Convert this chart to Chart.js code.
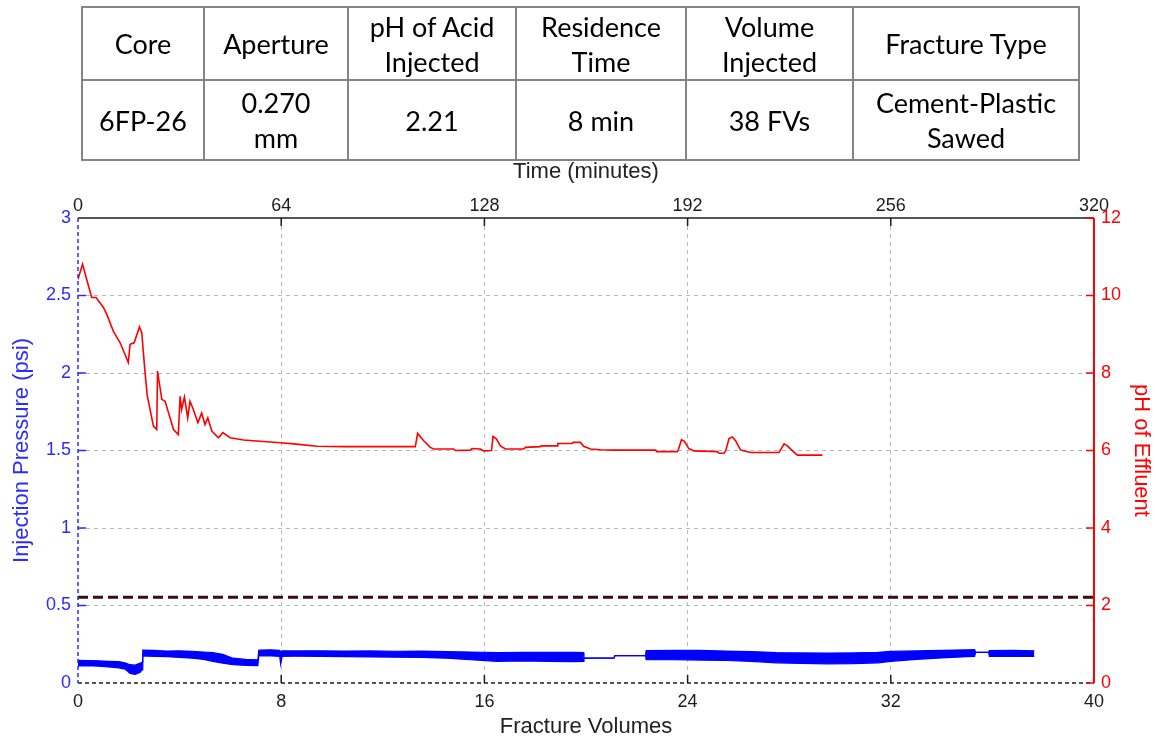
<!DOCTYPE html>
<html>
<head>
<meta charset="utf-8">
<title>Core 6FP-26 – injection pressure and effluent pH</title>
<script src="https://cdn.jsdelivr.net/npm/chart.js@4.4.1/dist/chart.umd.min.js"></script>
<style>
  html, body { margin: 0; padding: 0; background: #ffffff; }
  #wrap { position: relative; width: 1156px; height: 740px; overflow: hidden; }
  #chart { position: absolute; left: 0; top: 0; }
  #info {
    position: absolute; left: 81px; top: 6px;
    border-collapse: collapse; table-layout: fixed;
    font-family: Lato, "Open Sans", sans-serif; font-size: 27px; line-height: 35px; color: #000;
  }
  #info td { border: 2px solid #858585; text-align: center; vertical-align: middle; padding: 0; }
</style>
</head>
<body>
<div id="wrap">
  <canvas id="chart" width="1156" height="740"></canvas>
  <table id="info"><colgroup id="cols"></colgroup><tbody id="infoBody"></tbody></table>
</div>
<script>
// ---- Test summary table ----
const tableHeaders = ['Core', 'Aperture', 'pH of Acid<br>Injected', 'Residence<br>Time', 'Volume<br>Injected', 'Fracture Type'];
const tableValues  = ['6FP-26', '0.270<br>mm', '2.21', '8 min', '38 FVs', 'Cement-Plastic<br>Sawed'];

// ---- Axis ticks ----
const fvTicks       = [0, 8, 16, 24, 32, 40];          // fracture volumes (bottom)
const timeTicks     = [0, 64, 128, 192, 256, 320];     // minutes (top)
const pressureTicks = [0, 0.5, 1, 1.5, 2, 2.5, 3];     // psi (left)
const phTicks       = [0, 2, 4, 6, 8, 10, 12];         // pH (right)

// ---- pH of acid injected ----
const acidPH = 2.21;

// ---- Effluent pH vs fracture volumes ----
const phFV = [0, 0.18, 0.34, 0.54, 0.71, 1.0, 1.13, 1.39, 1.66, 1.98, 2.05, 2.21, 2.42, 2.51, 2.64, 2.73, 2.97, 3.10,
  3.13, 3.30, 3.43, 3.76, 3.95, 4.02, 4.08, 4.19, 4.32, 4.41, 4.54, 4.72, 4.87, 5.0, 5.11, 5.27, 5.53, 5.70, 5.99,
  6.52, 7.96, 8.5, 9.41, 10.5, 11.9, 13.28, 13.37, 13.61, 13.87, 14.0, 14.79, 14.86, 15.45, 15.51, 15.84, 15.97,
  16.28, 16.34, 16.47, 16.63, 16.83, 17.55, 17.62, 18.21, 18.23, 18.86, 18.89, 19.45, 19.49, 19.78, 19.91, 20.18,
  20.57, 21.10, 22.74, 22.78, 23.59, 23.63, 23.76, 23.88, 24.05, 24.25, 25.17, 25.24, 25.43, 25.50, 25.63, 25.76,
  25.89, 26.09, 26.48, 27.60, 27.80, 27.93, 28.13, 28.32, 29.31];
const phValues = [10.42, 10.81, 10.42, 9.95, 9.95, 9.69, 9.52, 9.08, 8.78, 8.27, 8.74, 8.78, 9.19, 9.04, 8.01, 7.40, 6.63, 6.54,
  8.05, 7.32, 7.27, 6.54, 6.41, 7.40, 7.06, 7.38, 6.84, 7.27, 7.06, 6.72, 6.97, 6.67, 6.84, 6.50, 6.33, 6.46, 6.33,
  6.27, 6.20, 6.17, 6.11, 6.10, 6.10, 6.10, 6.44, 6.25, 6.08, 6.04, 6.04, 6.00, 6.01, 6.05, 6.04, 5.99,
  6.00, 6.36, 6.30, 6.12, 6.04, 6.04, 6.08, 6.10, 6.12, 6.12, 6.18, 6.18, 6.21, 6.21, 6.11, 6.04,
  6.02, 6.01, 6.01, 5.97, 5.97, 6.01, 6.28, 6.23, 6.05, 5.99, 5.97, 5.93, 5.93, 5.99, 6.31, 6.35,
  6.25, 6.01, 5.95, 5.95, 6.17, 6.12, 5.99, 5.88, 5.88];

// ---- Injection pressure band (upper / lower edge of the recorded trace), psi ----
const pressureFV = [0, 0.4, 0.8, 1.2, 1.6, 1.85, 2.05, 2.25, 2.45, 2.52, 2.55, 3.0, 3.5, 4.0, 4.5, 4.95, 5.3, 5.7, 6.1,
  6.6, 7.08, 7.12, 7.6, 7.94, 7.98, 8.04, 8.5, 9.5, 10.5, 11.5, 12.5, 13.5, 14.5, 15.45, 16.5, 17.5, 18.5, 19.5,
  19.9, 19.92, 21.1, 21.14, 22.34, 22.37, 23.5, 24.5, 25.5, 26.5, 27.5, 28.5, 29.5, 30.5, 31.5, 32.0, 33.0, 34.0,
  35.0, 35.3, 35.34, 35.85, 35.88, 36.8, 37.65];
const pressureHigh = [0.146, 0.145, 0.143, 0.140, 0.138, 0.130, 0.118, 0.115, 0.128, 0.135, 0.212, 0.210, 0.206, 0.208,
  0.205, 0.200, 0.196, 0.185, 0.160, 0.152, 0.150, 0.212, 0.214, 0.210, 0.200, 0.208, 0.207, 0.208, 0.206, 0.207,
  0.205, 0.206, 0.203, 0.200, 0.196, 0.198, 0.197, 0.198, 0.196, 0.161, 0.161, 0.176, 0.176, 0.209, 0.210, 0.211,
  0.206, 0.203, 0.196, 0.194, 0.193, 0.194, 0.198, 0.204, 0.207, 0.211, 0.214, 0.215, 0.198, 0.198, 0.209, 0.210, 0.208];
const pressureLow = [0.110, 0.112, 0.108, 0.104, 0.098, 0.090, 0.062, 0.055, 0.070, 0.085, 0.175, 0.172, 0.170, 0.165,
  0.160, 0.152, 0.140, 0.128, 0.118, 0.114, 0.112, 0.176, 0.175, 0.172, 0.120, 0.172, 0.173, 0.172, 0.170, 0.168,
  0.166, 0.165, 0.160, 0.150, 0.140, 0.142, 0.140, 0.138, 0.140, 0.161, 0.161, 0.176, 0.176, 0.150, 0.150, 0.148,
  0.145, 0.140, 0.130, 0.126, 0.124, 0.125, 0.130, 0.140, 0.152, 0.162, 0.170, 0.172, 0.198, 0.198, 0.172, 0.172, 0.172];

// ---- Colours ----
const BLUE = '#0000ff', BLUE_TEXT = '#2b2bff', RED = '#ff0000', INK = '#1c1c1c', GRID = '#b8b8b8', ACID = '#3b0d0d';

// ---- Build the summary table ----
(function buildTable() {
  const widths = [122, 144, 168, 170, 167, 226];
  document.getElementById('cols').innerHTML = widths.map(w => `<col style="width:${w}px">`).join('');
  const row = (cells, h) => `<tr style="height:${h}px">` + cells.map(c => `<td>${c}</td>`).join('') + '</tr>';
  document.getElementById('infoBody').innerHTML = row(tableHeaders, 73) + row(tableValues, 80);
})();

// ---- Chart ----
Chart.defaults.font.family = "'Liberation Sans', Arial, sans-serif";
Chart.defaults.devicePixelRatio = 1;

const pts = (xs, ys) => xs.map((x, i) => ({ x, y: ys[i] }));
const innerGridColor = (lo, hi) => (c) => (c.tick && (c.tick.value === lo || c.tick.value === hi)) ? 'rgba(0,0,0,0)' : GRID;
const setTicks = (arr) => (scale) => { scale.ticks = arr.map(v => ({ value: v })); };
const plainLabel = (v) => String(v);

// Plot frame: MATLAB-style spines with inward tick marks
const framePlugin = {
  id: 'plotFrame',
  afterDatasetsDraw(chart) {
    const { ctx, chartArea: a, scales } = chart;
    const seg = (x1, y1, x2, y2, color, w, dash) => {
      ctx.save();
      ctx.strokeStyle = color; ctx.lineWidth = w; ctx.setLineDash(dash || []);
      ctx.beginPath(); ctx.moveTo(x1, y1); ctx.lineTo(x2, y2); ctx.stroke();
      ctx.restore();
    };
    const L = 8;
    seg(a.left, a.top, a.right, a.top, INK, 1.5);
    seg(a.left, a.bottom, a.right, a.bottom, INK, 1.5, [4, 3]);
    seg(a.left, a.top, a.left, a.bottom, BLUE_TEXT, 1.5, [4, 3]);
    seg(a.right, a.top, a.right, a.bottom, RED, 2);
    fvTicks.slice(1, -1).forEach(v => { const x = scales.x.getPixelForValue(v); seg(x, a.bottom, x, a.bottom - L, INK, 1.5); });
    timeTicks.slice(1, -1).forEach(v => { const x = scales.xTop.getPixelForValue(v); seg(x, a.top, x, a.top + L, INK, 1.5); });
    pressureTicks.slice(1, -1).forEach(v => { const y = scales.yP.getPixelForValue(v); seg(a.left, y, a.left + L, y, BLUE_TEXT, 1.5); });
    phTicks.forEach(v => { const y = scales.yPH.getPixelForValue(v); seg(a.right, y, a.right - L, y, RED, 1.5); });
  }
};

new Chart(document.getElementById('chart'), {
  type: 'line',
  data: {
    datasets: [
      { label: 'Injection pressure (upper)', data: pts(pressureFV, pressureHigh), xAxisID: 'x', yAxisID: 'yP',
        borderColor: BLUE, borderWidth: 1.2, pointRadius: 0, fill: false, tension: 0 },
      { label: 'Injection pressure (lower)', data: pts(pressureFV, pressureLow), xAxisID: 'x', yAxisID: 'yP',
        borderColor: BLUE, borderWidth: 1.2, pointRadius: 0, fill: '-1', backgroundColor: BLUE, tension: 0 },
      { label: 'pH of effluent', data: pts(phFV, phValues), xAxisID: 'x', yAxisID: 'yPH',
        borderColor: RED, borderWidth: 1.6, pointRadius: 0, fill: false, tension: 0 },
      { label: 'pH of acid injected', data: [{ x: fvTicks[0], y: acidPH }, { x: fvTicks[fvTicks.length - 1], y: acidPH }],
        xAxisID: 'x', yAxisID: 'yPH', borderColor: ACID, borderWidth: 3, borderDash: [10, 5], pointRadius: 0, fill: false }
    ]
  },
  options: {
    responsive: false,
    animation: false,
    events: [],
    layout: { padding: { top: 155, left: 0, right: 0, bottom: 0 } },
    plugins: { legend: { display: false }, tooltip: { enabled: false } },
    scales: {
      x: {
        type: 'linear', position: 'bottom', min: 0, max: 40,
        afterBuildTicks: setTicks(fvTicks),
        afterFit: (s) => { s.height = 57; },
        grid: { color: innerGridColor(0, 40), lineWidth: 1, drawTicks: false },
        border: { display: false, dash: [4, 4] },
        ticks: { color: INK, font: { size: 18 }, padding: 8, maxRotation: 0, autoSkip: false, callback: plainLabel },
        title: { display: true, text: 'Fracture Volumes', color: '#222', font: { size: 22 }, padding: { top: 0, bottom: 0 } }
      },
      xTop: {
        type: 'linear', position: 'top', min: 0, max: 320,
        afterBuildTicks: setTicks(timeTicks),
        afterFit: (s) => { s.height = 63; },
        grid: { display: false, drawTicks: false },
        border: { display: false },
        ticks: { color: INK, font: { size: 18 }, padding: 1, maxRotation: 0, autoSkip: false, callback: plainLabel },
        title: { display: true, text: 'Time (minutes)', color: '#222', font: { size: 22 }, padding: { top: 4, bottom: 0 } }
      },
      yP: {
        type: 'linear', position: 'left', min: 0, max: 3,
        afterBuildTicks: setTicks(pressureTicks),
        afterFit: (s) => { s.width = 78; },
        grid: { color: innerGridColor(0, 3), lineWidth: 1, drawTicks: false },
        border: { display: false, dash: [4, 4] },
        ticks: { color: BLUE_TEXT, font: { size: 18 }, padding: 7, autoSkip: false, callback: plainLabel },
        title: { display: true, text: 'Injection Pressure (psi)', color: BLUE_TEXT, font: { size: 22 }, padding: { top: 9, bottom: 0 } }
      },
      yPH: {
        type: 'linear', position: 'right', min: 0, max: 12,
        afterBuildTicks: setTicks(phTicks),
        afterFit: (s) => { s.width = 62; },
        grid: { display: false, drawTicks: false },
        border: { display: false },
        ticks: { color: RED, font: { size: 18 }, padding: 7, autoSkip: false, callback: plainLabel },
        title: { display: true, text: 'pH of Effluent', color: RED, font: { size: 22 }, padding: { top: 2, bottom: 0 } }
      }
    }
  },
  plugins: [framePlugin]
});
</script>
</body>
</html>
